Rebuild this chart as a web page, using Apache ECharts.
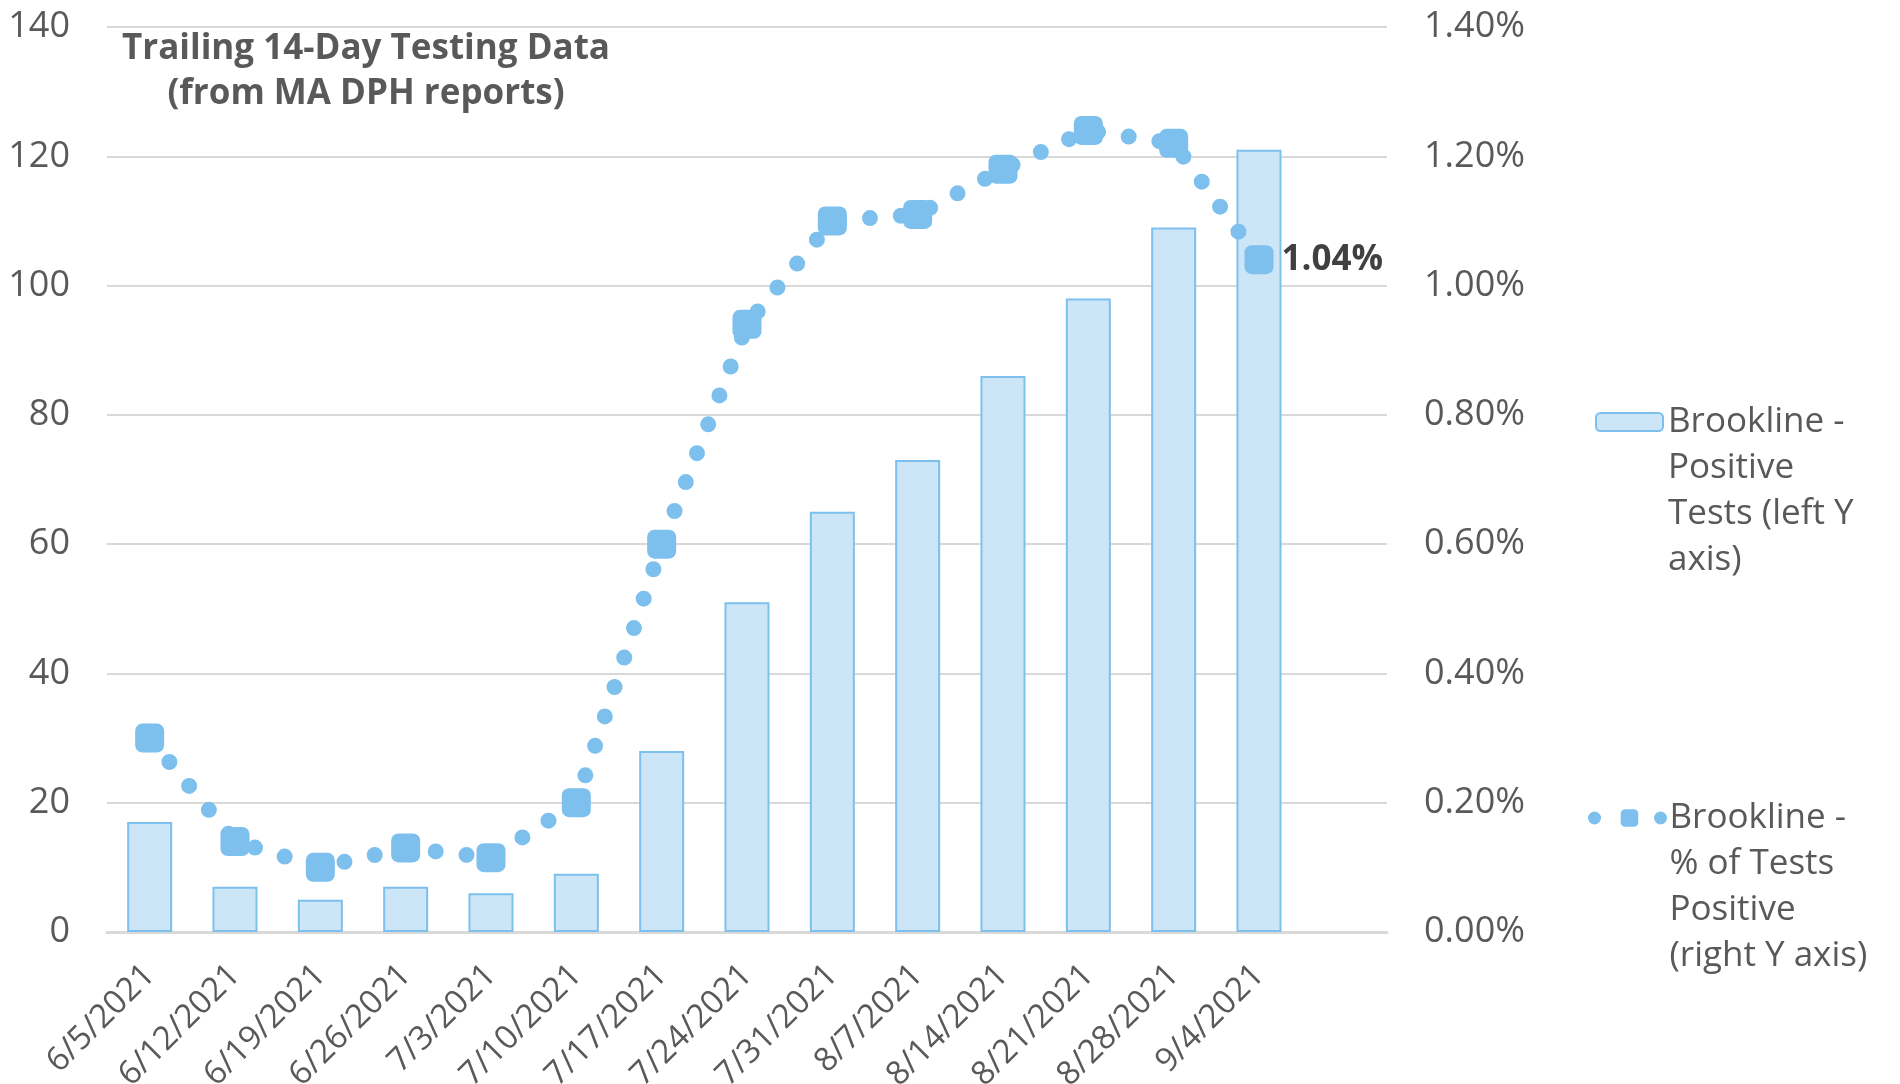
<!DOCTYPE html>
<html>
<head>
<meta charset="utf-8">
<script src="https://cdn.jsdelivr.net/npm/echarts@6/dist/echarts.min.js"></script>
<style>
  html, body { margin: 0; padding: 0; background: #fff; }
  #chart { width: 1900px; height: 1084px; }
</style>
</head>
<body>
<div id="chart"></div>
<script>
// weekly report dates (one empty slot at the end, like the source axis)
const weeks = ['6/5/2021', '6/12/2021', '6/19/2021', '6/26/2021', '7/3/2021', '7/10/2021', '7/17/2021',
  '7/24/2021', '7/31/2021', '8/7/2021', '8/14/2021', '8/21/2021', '8/28/2021', '9/4/2021'];
const positiveTests = [17, 7, 5, 7, 6, 9, 28, 51, 65, 73, 86, 98, 109, 121];
const pctPositive = [0.30, 0.14, 0.10, 0.13, 0.115, 0.20, 0.60, 0.94, 1.10, 1.11, 1.18, 1.24, 1.22, 1.04];
const leftMax = 140, leftStep = 20;
const rightMax = 1.4, rightStep = 0.2;

const barName = 'Brookline -\nPositive\nTests (left Y\naxis)';
const lineName = 'Brookline -\n% of Tests\nPositive\n(right Y axis)';

const FONT = 'Open Sans';
const GREY = '#595959';
const BLUE = '#7dc0ee';

const chart = echarts.init(document.getElementById('chart'));

const lastIdx = pctPositive.length - 1;
const lineData = pctPositive.map(function (v, i) {
  if (i !== lastIdx) return v;
  return {
    value: v,
    label: {
      show: true,
      position: 'right',
      distance: 8,
      formatter: function (p) { return p.value.toFixed(2) + '%'; },
      fontFamily: FONT,
      fontWeight: 'bold',
      fontSize: 35,
      color: '#404040'
    }
  };
});

// legend text is centred on the icon; pad with empty lines so the first line sits at the icon
function legendFormatter(name) {
  return '\n\n\n' + name;
}

const legendText = {
  fontFamily: FONT,
  fontSize: 35,
  color: GREY,
  lineHeight: 46
};

const option = {
  animation: false,
  backgroundColor: '#fff',
  title: {
    text: 'Trailing 14-Day Testing Data\n(from MA DPH reports)',
    left: 366,
    top: 27,
    padding: 0,
    textAlign: 'center',
    textStyle: {
      fontFamily: FONT,
      fontWeight: 'bold',
      fontSize: 35,
      lineHeight: 45,
      color: GREY
    }
  },
  grid: { left: 107, right: 513, top: 27, bottom: 152, containLabel: false, outerBoundsMode: 'none' },
  legend: [
    {
      data: [barName],
      orient: 'vertical',
      left: 1595,
      top: 261,
      padding: 0,
      itemWidth: 67,
      itemHeight: 18,
      selectedMode: false,
      formatter: legendFormatter,
      textStyle: legendText
    },
    {
      data: [lineName],
      orient: 'vertical',
      left: 1588,
      top: 657,
      padding: 0,
      itemWidth: 70,
      itemHeight: 22,
      selectedMode: false,
      formatter: legendFormatter,
      lineStyle: { width: 13, type: [0, 33], cap: 'round', color: BLUE },
      textStyle: legendText
    }
  ],
  xAxis: {
    type: 'category',
    data: weeks.concat(['']),
    boundaryGap: true,
    axisTick: { show: false },
    axisLine: { lineStyle: { color: '#d9d9d9', width: 3 } },
    axisLabel: {
      rotate: 45,
      margin: 38,
      interval: 0,
      fontFamily: FONT,
      fontSize: 33,
      color: GREY
    }
  },
  yAxis: [
    {
      type: 'value',
      min: 0,
      max: leftMax,
      interval: leftStep,
      axisLine: { show: false },
      axisTick: { show: false },
      splitLine: { lineStyle: { color: '#d9d9d9', width: 2 } },
      axisLabel: { margin: 37, fontFamily: FONT, fontSize: 36, color: GREY }
    },
    {
      type: 'value',
      min: 0,
      max: rightMax,
      interval: rightStep,
      axisLine: { show: false },
      axisTick: { show: false },
      splitLine: { show: false },
      axisLabel: {
        margin: 37,
        fontFamily: FONT,
        fontSize: 36,
        color: GREY,
        formatter: function (v) { return v.toFixed(2) + '%'; }
      }
    }
  ],
  series: [
    {
      name: barName,
      type: 'bar',
      yAxisIndex: 0,
      data: positiveTests,
      barWidth: 45,
      itemStyle: { color: '#cce6f8', borderColor: BLUE, borderWidth: 2 }
    },
    {
      name: lineName,
      type: 'line',
      yAxisIndex: 1,
      data: lineData,
      symbol: 'roundRect',
      symbolSize: 29,
      z: 5,
      itemStyle: { color: BLUE },
      lineStyle: { color: BLUE, width: 16, type: [0, 31], cap: 'round' }
    }
  ]
};

chart.setOption(option);
</script>
</body>
</html>
